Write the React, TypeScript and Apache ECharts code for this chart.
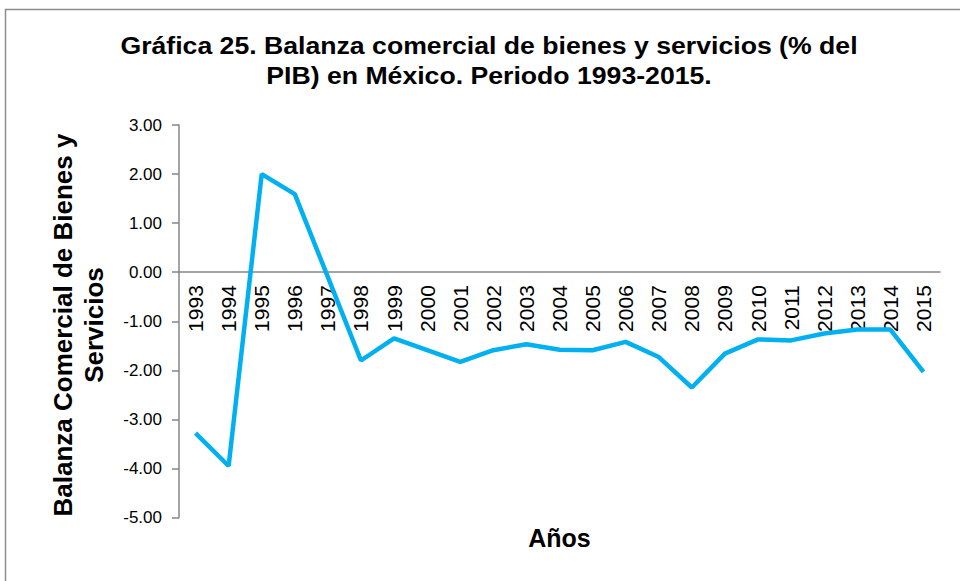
import React, { useEffect, useRef } from "react";
import * as echarts from "echarts";

const years = ["1993","1994","1995","1996","1997","1998","1999","2000","2001","2002","2003","2004","2005","2006","2007","2008","2009","2010","2011","2012","2013","2014","2015"];
const balance = [-3.28,-3.95,2.0,1.59,-0.1,-1.8,-1.35,-1.59,-1.83,-1.59,-1.47,-1.58,-1.59,-1.42,-1.73,-2.35,-1.66,-1.37,-1.39,-1.25,-1.17,-1.17,-2.03];
const yTicks = { min: -5, max: 3, interval: 1 };
const titleLines = ["Gráfica 25. Balanza comercial de bienes y servicios (% del", "PIB) en México. Periodo 1993-2015."];
const yTitle = "Balanza Comercial de Bienes y\nServicios";
const xTitle = "Años";

const FONT = "'Liberation Sans', Arial, Helvetica, sans-serif";
const GRID_TOP = 125;
const GRID_BOTTOM = 63.5;
const CHART_H = 581;

export default function App() {
  const ref = useRef<HTMLDivElement>(null);
  useEffect(() => {
    if (!ref.current) return;
    const chart = echarts.init(ref.current, null, { renderer: "svg" });
    const plotH = CHART_H - GRID_TOP - GRID_BOTTOM;
    const zeroFromBottom = plotH * (0 - yTicks.min) / (yTicks.max - yTicks.min);
    chart.setOption({
      animation: false,
      backgroundColor: "#ffffff",
      grid: { left: 179, right: 20, top: GRID_TOP, bottom: GRID_BOTTOM, containLabel: false },
      xAxis: {
        type: "category",
        data: years,
        boundaryGap: true,
        position: "bottom",
        offset: -zeroFromBottom,
        axisLine: { onZero: false, lineStyle: { color: "#868686", width: 1.5 } },
        axisTick: { show: false },
        axisLabel: { rotate: 90, interval: 0, margin: 13, color: "#000", fontSize: 21, fontFamily: FONT },
        splitLine: { show: false },
      },
      yAxis: {
        type: "value",
        min: yTicks.min,
        max: yTicks.max,
        interval: yTicks.interval,
        axisLine: { show: true, lineStyle: { color: "#868686", width: 1.5 } },
        axisTick: { show: true, inside: false, length: 7, lineStyle: { color: "#868686", width: 1.5 } },
        axisLabel: { margin: 17, color: "#000", fontSize: 17, fontFamily: FONT, formatter: (v: number) => v.toFixed(2) },
        splitLine: { show: false },
      },
      series: [
        {
          type: "line",
          data: balance,
          showSymbol: false,
          symbol: "none",
          lineStyle: { color: "#00B0F0", width: 4.5 },
        },
      ],
      graphic: [
        {
          type: "rect",
          shape: { x: 5.5, y: 9.5, width: 1000, height: 1000 },
          style: { fill: "none", stroke: "#8c8c8c", lineWidth: 1.5 },
          silent: true,
        },
        {
          type: "text",
          x: 489,
          y: 45,
          scaleX: 1.11,
          style: { text: titleLines[0], font: `bold 24px ${FONT}`, fill: "#000", align: "center", verticalAlign: "middle" },
        },
        {
          type: "text",
          x: 489,
          y: 75,
          scaleX: 1.11,
          style: { text: titleLines[1], font: `bold 24px ${FONT}`, fill: "#000", align: "center", verticalAlign: "middle" },
        },
        {
          type: "text",
          x: 78,
          y: 325,
          rotation: Math.PI / 2,
          style: { text: yTitle, font: `bold 26px ${FONT}`, fill: "#000", align: "center", verticalAlign: "middle", lineHeight: 31 },
        },
        {
          type: "text",
          x: 559.5,
          y: 538,
          style: { text: xTitle, font: `bold 25px ${FONT}`, fill: "#000", align: "center", verticalAlign: "middle" },
        },
      ],
    });
    return () => chart.dispose();
  }, []);
  return <div ref={ref} style={{ position: "fixed", left: 0, top: 0, width: 960, height: 581 }} />;
}
